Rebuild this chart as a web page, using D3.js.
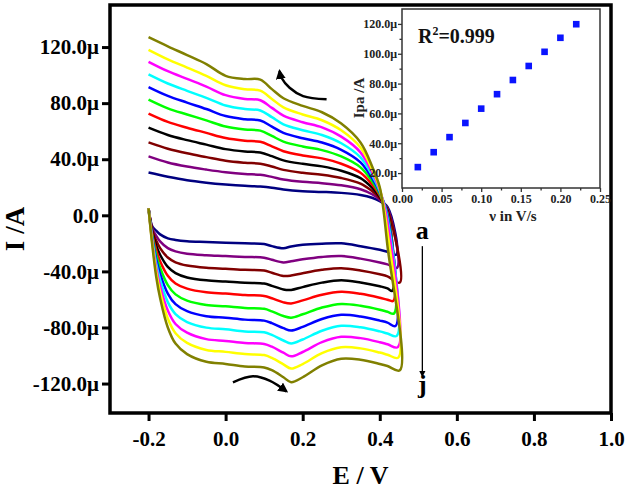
<!DOCTYPE html>
<html>
<head>
<meta charset="utf-8">
<script src="https://cdn.jsdelivr.net/npm/d3@7"></script>
<style>
body { margin: 0; background: #fff; }
text { font-family: "Liberation Serif", "Times New Roman", serif; font-weight: bold; }
</style>
</head>
<body>
<svg id="chart" width="628" height="491"></svg>
<script>
// potentials (V) of the forward and reverse sweep, shared by all scans
const eForward = [-0.2, -0.15, -0.1, -0.05, 0, 0.05, 0.09, 0.12, 0.15, 0.2, 0.25, 0.3, 0.35, 0.38, 0.4, 0.42];
const eReverse = [0.42, 0.4, 0.35, 0.3, 0.25, 0.2, 0.17, 0.15, 0.12, 0.1, 0.05, 0, -0.05, -0.1, -0.13, -0.15, -0.17, -0.18, -0.19, -0.2];

// currents (µA), one array per scan rate (mV/s)
const fwd020 = [30.5, 27.5, 25, 23.3, 22, 21, 20.5, 19.7, 18.4, 17.2, 16.7, 16, 14.5, 12.5, 10, 6];
const fwd040 = [42, 37.7, 34.8, 32.6, 30.7, 29.4, 28.9, 27.4, 25.6, 23.9, 22.9, 21.4, 18.6, 15, 11.1, 5];
const fwd060 = [52, 47.5, 44.2, 41.5, 38.9, 37.5, 36.8, 34.8, 32.4, 30.3, 28.9, 26.6, 22.6, 17.3, 12.2, 4];
const fwd080 = [62.5, 57.3, 53.6, 50.4, 47.2, 45.5, 44.8, 42.2, 39.2, 36.7, 34.9, 31.8, 26.5, 19.7, 13.2, 3];
const fwd100 = [72.5, 66.6, 62.5, 58.8, 55.1, 53.2, 52.4, 49.2, 45.7, 42.7, 40.6, 36.8, 30.3, 22, 14.2, 2];
const fwd120 = [82.5, 76.3, 71.9, 67.7, 63.3, 61.2, 60.4, 56.6, 52.6, 49.1, 46.5, 42, 34.2, 24.3, 15.3, 1];
const fwd140 = [91.5, 85.2, 80.4, 75.8, 70.8, 68.5, 67.6, 63.3, 58.8, 54.9, 51.9, 46.7, 37.8, 26.5, 16.2, 0];
const fwd160 = [100.5, 94, 88.8, 83.8, 78.3, 75.8, 74.8, 70, 64.9, 60.7, 57.3, 51.4, 41.3, 28.6, 17.2, -2];
const fwd180 = [109.5, 102.8, 97.3, 91.8, 85.7, 83, 82.1, 76.6, 71.1, 66.4, 62.7, 56.1, 44.9, 30.7, 18.1, -5];
const fwd200 = [118, 111.2, 105.4, 99.4, 92.8, 89.9, 88.9, 83, 77, 71.9, 67.8, 60.6, 48.3, 32.8, 19, -12];
const fwd220 = [127, 120.5, 114.3, 107.9, 99.5, 97.2, 96.8, 90, 83.5, 78, 73.5, 65.5, 52, 35, 20, -22];

const rev020 = [-26, -24.6, -22, -20, -20.2, -21, -22.2, -23.5, -22, -20.5, -20, -19.5, -19, -18.5, -17.6, -16.4, -13.6, -11, -8, 5];
const rev040 = [-35, -33.6, -30.9, -29.1, -29.7, -31.4, -32.8, -33.6, -31.7, -30.2, -29.7, -29, -28.4, -27.4, -25.7, -23.4, -18.6, -14.6, -9.5, 5];
const rev060 = [-43.5, -42.1, -39.4, -37.7, -38.9, -41.3, -43, -43.3, -41, -39.4, -38.9, -38.1, -37.4, -35.8, -33.5, -30.1, -23.4, -18.1, -11, 5];
const rev080 = [-52.1, -50.6, -47.9, -46.3, -48, -51.2, -53.2, -52.9, -50.3, -48.7, -48.1, -47.2, -46.4, -44.3, -41.2, -36.8, -28.1, -21.6, -12.5, 5];
const rev100 = [-60.2, -58.8, -56, -54.6, -56.7, -60.7, -62.9, -62.1, -59.2, -57.5, -56.9, -55.8, -54.9, -52.3, -48.6, -43.1, -32.7, -24.9, -13.9, 5];
const rev120 = [-68.8, -67.3, -64.5, -63.2, -65.8, -70.6, -73, -71.8, -68.5, -66.7, -66.1, -64.9, -63.9, -60.8, -56.4, -49.8, -37.4, -28.3, -15.4, 5];
const rev140 = [-76.5, -75.1, -72.2, -71, -74, -79.6, -82.2, -80.5, -76.9, -75.1, -74.4, -73.1, -72, -68.4, -63.4, -55.8, -41.7, -31.5, -16.7, 5];
const rev160 = [-84.3, -82.8, -79.9, -78.8, -82.3, -88.6, -91.4, -89.3, -85.3, -83.4, -82.8, -81.3, -80.1, -76.1, -70.4, -61.9, -46.1, -34.6, -18, 5];
const rev180 = [-92, -90.5, -87.6, -86.7, -90.5, -97.5, -100.6, -98, -93.7, -91.8, -91.1, -89.6, -88.3, -83.7, -77.5, -67.9, -50.4, -37.7, -19.3, 5];
const rev200 = [-99.4, -97.9, -94.9, -94.1, -98.3, -106.1, -109.3, -106.3, -101.7, -99.7, -99, -97.4, -96, -91, -84.1, -73.6, -54.5, -40.7, -20.6, 5];
const rev220 = [-107.5, -106, -103, -102.3, -107, -115.5, -119, -115.5, -110.5, -108.5, -107.8, -106, -104.5, -99, -91.5, -80, -59, -44, -22, 5];

// switching vertex of each scan
const eSwitch = [0.443, 0.445, 0.452, 0.432, 0.435, 0.437, 0.441, 0.444, 0.447, 0.448, 0.452];
const iSwitch = [-28, -37.4, -48, -54, -61, -70, -79, -86, -94, -101.5, -110.5];

const scanColors = ["#000080", "#800080", "#800000", "#000000", "#ff0000", "#00ff00",
                    "#0000ff", "#00ffff", "#ff00ff", "#ffff00", "#808000"];

// inset: anodic peak current vs scan rate
const scanRates = [0.02, 0.04, 0.06, 0.08, 0.10, 0.12, 0.14, 0.16, 0.18, 0.20, 0.22];
const peakCurrents = [24, 34, 44.1, 53.6, 63.2, 72.9, 82.4, 91.8, 101.3, 110.7, 119.8];

const xTicks = [-0.2, 0, 0.2, 0.4, 0.6, 0.8, 1.0];
const yTicks = [-120, -80, -40, 0, 40, 80, 120];
const insetXTicks = [0, 0.05, 0.1, 0.15, 0.2, 0.25];
const insetYTicks = [20, 40, 60, 80, 100, 120];

const forwardSet = [fwd020, fwd040, fwd060, fwd080, fwd100, fwd120, fwd140, fwd160, fwd180, fwd200, fwd220];
const reverseSet = [rev020, rev040, rev060, rev080, rev100, rev120, rev140, rev160, rev180, rev200, rev220];

const svg = d3.select("#chart");
const plotL = 110, plotR = 611, plotT = 5, plotB = 413;

const x = d3.scaleLinear().domain([-0.3, 1.0]).range([plotL, plotR]);
const y = d3.scaleLinear().domain([-141, 150]).range([plotB, plotT]);

const line = d3.line()
  .x(d => x(d[0]))
  .y(d => y(d[1]))
  .curve(d3.curveCatmullRom.alpha(0.5));

const scans = forwardSet.map((fwd, k) => {
  const pts = eForward.map((e, i) => [e, fwd[i]]);
  pts.push([eSwitch[k], iSwitch[k]]);
  eReverse.forEach((e, i) => pts.push([e, reverseSet[k][i]]));
  return pts;
});

svg.append("g").selectAll("path")
  .data(scans)
  .enter().append("path")
  .attr("d", line)
  .attr("fill", "none")
  .attr("stroke", (d, i) => scanColors[i])
  .attr("stroke-width", 2.5)
  .attr("stroke-linejoin", "round");

// axes
const gx = svg.append("g")
  .attr("transform", "translate(0," + plotB + ")")
  .call(d3.axisBottom(x).tickValues(xTicks).tickFormat(d => d.toFixed(1))
    .tickSize(8).tickPadding(10).tickSizeOuter(0));
const gy = svg.append("g")
  .attr("transform", "translate(" + plotL + ",0)")
  .call(d3.axisLeft(y).tickValues(yTicks)
    .tickFormat(d => d === 0 ? "0.0" : d.toFixed(1) + "μ")
    .tickSize(8).tickPadding(3).tickSizeOuter(0));
[gx, gy].forEach(g => {
  g.select(".domain").remove();
  g.attr("font-family", null).attr("font-size", 21);
  g.selectAll("line").attr("stroke", "#000").attr("stroke-width", 3);
  g.selectAll("text").attr("fill", "#000");
});

svg.append("rect")
  .attr("x", plotL).attr("y", plotT)
  .attr("width", plotR - plotL).attr("height", plotB - plotT)
  .attr("fill", "none").attr("stroke", "#000").attr("stroke-width", 3.5);

svg.append("text")
  .attr("x", (plotL + plotR) / 2).attr("y", 484)
  .attr("text-anchor", "middle").attr("font-size", 26)
  .text("E / V");
svg.append("text")
  .attr("transform", "translate(24,229) rotate(-90)")
  .attr("text-anchor", "middle").attr("font-size", 27)
  .text("I /A");

// sweep direction arrows
const defs = svg.append("defs");
defs.append("marker")
  .attr("id", "head").attr("viewBox", "0 0 10 10")
  .attr("refX", 8).attr("refY", 5)
  .attr("markerWidth", 4).attr("markerHeight", 4)
  .attr("orient", "auto-start-reverse")
  .append("path").attr("d", "M0,0L10,5L0,10z").attr("fill", "#000");
defs.append("marker")
  .attr("id", "thinhead").attr("viewBox", "0 0 10 10")
  .attr("refX", 9).attr("refY", 5)
  .attr("markerWidth", 5).attr("markerHeight", 7)
  .attr("orient", "auto")
  .append("path").attr("d", "M0,0L10,5L0,10z").attr("fill", "#000");

const arrowTop = [[0.262, 82.7], [0.201, 85.0], [0.166, 91.0], [0.145, 98.1], [0.140, 102.9]];
const arrowBottom = [[0.019, -119.1], [0.071, -114.8], [0.114, -117.9], [0.158, -125.6]];
[arrowTop, arrowBottom].forEach(a => {
  svg.append("path")
    .attr("d", line(a))
    .attr("fill", "none").attr("stroke", "#000").attr("stroke-width", 2.5)
    .attr("marker-end", "url(#head)");
});

svg.append("line")
  .attr("x1", x(0.5105)).attr("x2", x(0.5105))
  .attr("y1", y(-22)).attr("y2", y(-115))
  .attr("stroke", "#000").attr("stroke-width", 1.3)
  .attr("marker-end", "url(#thinhead)");
svg.append("text").attr("x", x(0.5105)).attr("y", y(-17))
  .attr("text-anchor", "middle").attr("font-size", 26).text("a");
svg.append("text").attr("x", x(0.5105)).attr("y", y(-127))
  .attr("text-anchor", "middle").attr("font-size", 26).text("j");

// inset
const ix = d3.scaleLinear().domain([0, 0.25]).range([402, 600]);
const iy = d3.scaleLinear().domain([10, 130]).range([188, 9]);

svg.append("rect")
  .attr("x", 402).attr("y", 9).attr("width", 198).attr("height", 179)
  .attr("fill", "#fff").attr("stroke", "#333").attr("stroke-width", 1.5);

const igx = svg.append("g")
  .attr("transform", "translate(0,188)")
  .call(d3.axisBottom(ix).tickValues(insetXTicks).tickFormat(d => d.toFixed(2))
    .tickSize(4).tickPadding(2).tickSizeOuter(0));
const igy = svg.append("g")
  .attr("transform", "translate(402,0)")
  .call(d3.axisLeft(iy).tickValues(insetYTicks).tickFormat(d => d.toFixed(1) + "μ")
    .tickSize(4).tickPadding(1).tickSizeOuter(0));
const igym = svg.append("g")
  .attr("transform", "translate(402,0)")
  .call(d3.axisLeft(iy).tickValues([30, 50, 70, 90, 110]).tickFormat("")
    .tickSize(2.5).tickSizeOuter(0));
const igxm = svg.append("g")
  .attr("transform", "translate(0,188)")
  .call(d3.axisBottom(ix).tickValues([0.025, 0.075, 0.125, 0.175, 0.225]).tickFormat("")
    .tickSize(2.5).tickSizeOuter(0));
[igx, igy, igym, igxm].forEach(g => {
  g.select(".domain").remove();
  g.attr("font-family", null).attr("font-size", 12);
  g.selectAll("line").attr("stroke", "#333").attr("stroke-width", 1.3);
  g.selectAll("text").attr("fill", "#222");
});

svg.append("g").selectAll("rect")
  .data(scanRates)
  .enter().append("rect")
  .attr("x", (d, i) => ix(d) - 3.3)
  .attr("y", (d, i) => iy(peakCurrents[i]) - 3.3)
  .attr("width", 6.6).attr("height", 6.6)
  .attr("fill", "#0a14ff");

const r2 = svg.append("text").attr("x", 418).attr("y", 43).attr("font-size", 20).attr("fill", "#111");
r2.append("tspan").text("R");
r2.append("tspan").attr("font-size", 12).attr("dy", -8).text("2");
r2.append("tspan").attr("dy", 8).text("=0.999");

svg.append("text")
  .attr("x", 513).attr("y", 221)
  .attr("text-anchor", "middle").attr("font-size", 15).attr("fill", "#222")
  .text("ν in V/s");
svg.append("text")
  .attr("transform", "translate(364,98) rotate(-90)")
  .attr("text-anchor", "middle").attr("font-size", 15).attr("fill", "#222")
  .text("Ipa /A");
</script>
</body>
</html>
